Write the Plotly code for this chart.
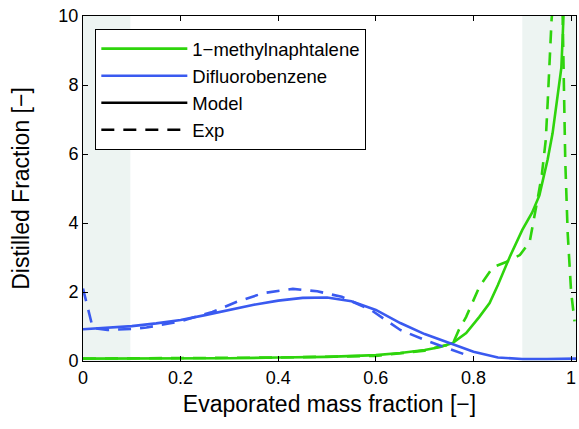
import plotly.graph_objects as go

# ---- data ----
blue_model_x = [0, 0.05, 0.1, 0.15, 0.2, 0.25, 0.3, 0.35, 0.4, 0.45, 0.5, 0.55, 0.6, 0.65, 0.7, 0.75, 0.8, 0.85, 0.9, 0.95, 1.0, 1.01]
blue_model_y = [0.92, 0.96, 1.01, 1.09, 1.19, 1.33, 1.48, 1.63, 1.75, 1.83, 1.84, 1.73, 1.48, 1.10, 0.78, 0.52, 0.27, 0.10, 0.06, 0.06, 0.07, 0.07]

blue_exp_x = [0, 0.01, 0.02, 0.05, 0.1, 0.13, 0.2, 0.265, 0.314, 0.37, 0.43, 0.48, 0.53, 0.59, 0.65, 0.70, 0.757, 0.79]
blue_exp_y = [2.1, 1.5, 0.96, 0.9, 0.93, 0.97, 1.15, 1.42, 1.71, 1.97, 2.09, 2.02, 1.86, 1.48, 0.9, 0.61, 0.32, 0.15]

green_model_x = [0, 0.1, 0.2, 0.3, 0.4, 0.5, 0.6, 0.65, 0.7, 0.73, 0.757, 0.785, 0.812, 0.833, 0.85, 0.874, 0.9, 0.92, 0.935, 0.952, 0.962, 0.972, 0.98, 0.983, 0.987]
green_model_y = [0.07, 0.07, 0.07, 0.08, 0.1, 0.12, 0.17, 0.23, 0.32, 0.40, 0.52, 0.81, 1.28, 1.68, 2.2, 3.01, 3.8, 4.3, 4.8, 5.85, 6.6, 7.6, 8.5, 9.5, 11.0]

green_exp_x = [0, 0.2, 0.4, 0.6, 0.7, 0.73, 0.757, 0.77, 0.785, 0.812, 0.84, 0.867, 0.895, 0.915, 0.925, 0.931, 0.94, 0.948, 0.952, 0.956, 0.96, 0.97, 0.98, 0.982, 0.985, 0.988, 0.993, 1.0, 1.007]
green_exp_y = [0.07, 0.08, 0.1, 0.15, 0.3, 0.42, 0.48, 0.9, 1.28, 2.15, 2.72, 2.87, 3.07, 3.45, 4.17, 4.67, 5.4, 6.4, 7.5, 8.7, 9.9, 11.5, 11.5, 10.5, 8.0, 5.8, 3.7, 2.0, 1.15]

shade_regions = [(0, 0.097), (0.9, 1.01)]

x_ticks = [0, 0.2, 0.4, 0.6, 0.8, 1]
y_ticks = [0, 2, 4, 6, 8, 10]

GREEN = "#2ed40c"
BLUE = "#3a5af0"
DASH = "13px,9px"
LW = 2.6

fig = go.Figure()

fig.add_trace(go.Scatter(x=green_model_x, y=green_model_y, mode="lines",
                         line=dict(color=GREEN, width=LW), showlegend=False))
fig.add_trace(go.Scatter(x=green_exp_x, y=green_exp_y, mode="lines",
                         line=dict(color=GREEN, width=LW, dash=DASH), showlegend=False))
fig.add_trace(go.Scatter(x=blue_model_x, y=blue_model_y, mode="lines",
                         line=dict(color=BLUE, width=LW), showlegend=False))
fig.add_trace(go.Scatter(x=blue_exp_x, y=blue_exp_y, mode="lines",
                         line=dict(color=BLUE, width=LW, dash=DASH), showlegend=False))

# legend entries
fig.add_trace(go.Scatter(x=[None], y=[None], mode="lines", name="1\u2212methylnaphtalene",
                         line=dict(color=GREEN, width=LW)))
fig.add_trace(go.Scatter(x=[None], y=[None], mode="lines", name="Difluorobenzene",
                         line=dict(color=BLUE, width=LW)))
fig.add_trace(go.Scatter(x=[None], y=[None], mode="lines", name="Model",
                         line=dict(color="black", width=LW)))
fig.add_trace(go.Scatter(x=[None], y=[None], mode="lines", name="Exp",
                         line=dict(color="black", width=LW, dash=DASH)))

for x0, x1 in shade_regions:
    fig.add_shape(type="rect", xref="x", yref="y", x0=x0, x1=x1, y0=0, y1=10,
                  fillcolor="#edf4f2", line=dict(width=0), layer="below")

FONT = "Liberation Sans, Arial, sans-serif"

fig.update_layout(
    width=579, height=429,
    margin=dict(l=83, r=3, t=16, b=68),
    paper_bgcolor="white", plot_bgcolor="white",
    font=dict(family=FONT, color="black", size=18),
    legend=dict(x=0.025, y=0.962, xanchor="left", yanchor="top",
                bgcolor="white", bordercolor="black", borderwidth=1,
                font=dict(size=18.5, family=FONT), tracegroupgap=0, itemwidth=86),
)
fig.update_xaxes(range=[0, 1.01], tickvals=x_ticks, ticktext=[str(v) for v in x_ticks],
                 showgrid=False, zeroline=False, showline=True, linecolor="black",
                 linewidth=1, mirror="allticks", ticks="inside", ticklen=5,
                 tickcolor="black", tickfont=dict(size=18),
                 title=dict(text="Evaporated mass fraction [\u2212]", font=dict(size=23), standoff=9))
fig.update_yaxes(range=[0, 10], tickvals=y_ticks,
                 showgrid=False, zeroline=False, showline=True, linecolor="black",
                 linewidth=1, mirror="allticks", ticks="inside", ticklen=5,
                 tickcolor="black", tickfont=dict(size=18),
                 title=dict(text="Distilled Fraction [\u2212]", font=dict(size=23), standoff=22))

fig.write_html("out.html")
